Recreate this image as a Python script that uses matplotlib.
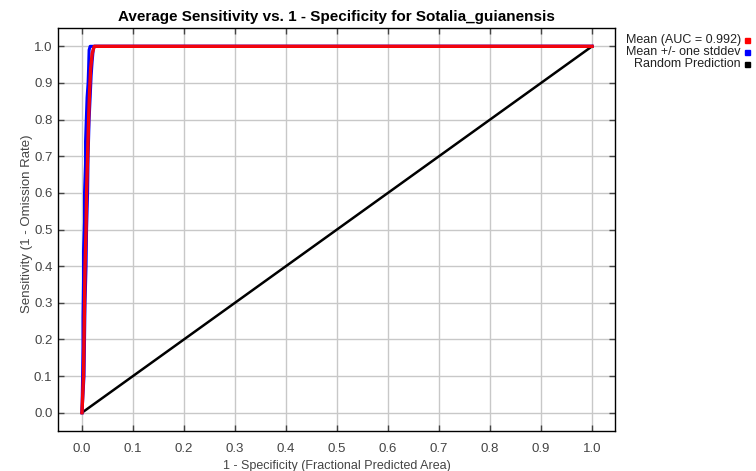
import matplotlib
matplotlib.use('Agg')
import matplotlib.pyplot as plt
from matplotlib.patches import Rectangle

plt.rcParams['font.family'] = ['Liberation Sans', 'DejaVu Sans']

# ROC data: mean sensitivity and the +/- one stddev bands
mean_x = [0.0, 0.003, 0.004, 0.005, 0.006, 0.008, 0.009, 0.011, 0.013, 0.015, 0.017, 0.020, 0.024, 1.0]
mean_y = [0.0, 0.10, 0.20, 0.30, 0.40, 0.50, 0.60, 0.70, 0.80, 0.88, 0.94, 0.98, 1.0, 1.0]

upper_x = [0.0, 0.001, 0.002, 0.002, 0.003, 0.003, 0.005, 0.005, 0.007, 0.007, 0.009, 0.010, 0.012, 0.013, 0.014, 0.016, 1.0]
upper_y = [0.0, 0.08, 0.18, 0.26, 0.36, 0.44, 0.52, 0.60, 0.68, 0.74, 0.82, 0.86, 0.90, 0.94, 0.99, 1.0, 1.0]

lower_x = [0.0, 0.004, 0.005, 0.006, 0.008, 0.009, 0.011, 0.012, 0.014, 0.016, 0.018, 0.020, 0.022, 0.024, 1.0]
lower_y = [0.0, 0.10, 0.20, 0.30, 0.40, 0.50, 0.60, 0.70, 0.80, 0.86, 0.92, 0.96, 0.99, 1.0, 1.0]

random_x = [0.0, 1.0]
random_y = [0.0, 1.0]

ticks = [0.0, 0.1, 0.2, 0.3, 0.4, 0.5, 0.6, 0.7, 0.8, 0.9, 1.0]

legend_labels = ['Mean (AUC = 0.992)', 'Mean +/- one stddev', 'Random Prediction']
legend_colors = ['#ff0000', '#0000ff', '#000000']

W, H = 756, 471
fig = plt.figure(figsize=(W / 100, H / 100), dpi=100)
ax = fig.add_axes([58 / W, 1 - 431 / H, (615 - 58) / W, (431 - 28) / H])

ax.plot(upper_x, upper_y, color='#0000ff', lw=2.2, zorder=3)
ax.plot(lower_x, lower_y, color='#0000ff', lw=2.2, zorder=3)
ax.plot(mean_x, mean_y, color='#ff0000', lw=2.4, zorder=4)
ax.plot(mean_x, mean_y, color='#c8103c', lw=0.8, alpha=0.5, zorder=5)
ax.plot(random_x, random_y, color='#000000', lw=1.8, zorder=2)

ax.set_xlim(-0.047, 1.045)
ax.set_ylim(-0.05, 1.05)
ax.set_xticks(ticks)
ax.set_yticks(ticks)
ax.set_xticklabels([f'{t:.1f}' for t in ticks])
ax.set_yticklabels([f'{t:.1f}' for t in ticks])
ax.grid(True, color='#c8c8c8', lw=1.0)
ax.set_axisbelow(True)
ax.tick_params(direction='in', length=4, width=1, colors='#444444',
               labelsize=9.5, labelcolor='#444444', top=True, right=True)
ax.tick_params(axis='x', pad=9)
ax.tick_params(axis='y', pad=4)
for s in ax.spines.values():
    s.set_color('#000000')
    s.set_linewidth(1.0)

ax.set_title('Average Sensitivity vs. 1 - Specificity for Sotalia_guianensis',
             fontsize=11, fontweight='bold', pad=5)
ax.set_xlabel('1 - Specificity (Fractional Predicted Area)', fontsize=9, color='#444444', labelpad=3)
ax.set_ylabel('Sensitivity (1 - Omission Rate)', fontsize=9.5, color='#444444')
ax.yaxis.set_label_coords(-0.044, 0.514)

# legend to the right of the plot, text right-aligned against colour squares
for i, (lab, col) in enumerate(zip(legend_labels, legend_colors)):
    yc = 40 + i * 12
    fig.text(741 / W, 1 - yc / H, lab, ha='right', va='center', fontsize=9, color='#222222')
    fig.patches.append(Rectangle((745 / W, 1 - (yc + 3) / H), 5 / W, 5 / H,
                                 transform=fig.transFigure, color=col, figure=fig))

fig.savefig('out.png', dpi=100)
